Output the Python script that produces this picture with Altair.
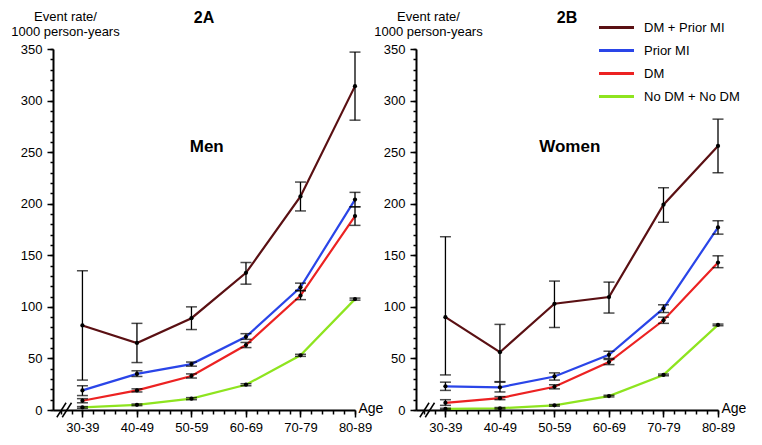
import altair as alt
import pandas as pd

ages = ["30-39", "40-49", "50-59", "60-69", "70-79", "80-89"]
groups = ["DM + Prior MI", "Prior MI", "DM", "No DM + No DM"]
colors = ["#5a1013", "#2a45e8", "#ec2222", "#8ee41f"]

# Men (2A)
men_dm_mi = [82, 65, 89, 133, 207, 314]
men_dm_mi_lo = [29, 46, 78, 122, 193, 281]
men_dm_mi_hi = [135, 84, 100, 143, 221, 347]
men_mi = [19, 35, 44.5, 71, 119, 204]
men_mi_lo = [14, 32.5, 42.5, 68.5, 115.5, 197]
men_mi_hi = [23.5, 38, 46.5, 74, 123, 211]
men_dm = [9, 19, 33, 63, 111, 188]
men_dm_lo = [7, 17.5, 31, 60.5, 107, 179]
men_dm_hi = [11, 20.5, 35, 65.5, 116, 197]
men_no = [2.5, 5, 11, 24.5, 53, 107.5]
men_no_lo = [1.7, 4.2, 10, 23.5, 52, 106.5]
men_no_hi = [3.3, 5.8, 12, 25.5, 54, 108.5]

# Women (2B)
wom_dm_mi = [90, 56, 103, 109.5, 199, 256]
wom_dm_mi_lo = [34, 27.5, 80, 94, 182, 230]
wom_dm_mi_hi = [168, 83, 125, 124, 215.5, 282]
wom_mi = [23, 22, 32.5, 53.5, 98.5, 177]
wom_mi_lo = [19, 17.5, 29, 50, 94.5, 170.5]
wom_mi_hi = [27, 27, 36, 57, 102, 183.5]
wom_dm = [7, 11.5, 22.5, 46.5, 87, 143]
wom_dm_lo = [4.5, 10, 20.5, 44, 84, 138]
wom_dm_hi = [10, 13, 24.5, 49, 90, 149.5]
wom_no = [1, 1.7, 4.5, 13.5, 34, 82.5]
wom_no_lo = [0.3, 1, 3.7, 12.7, 33.2, 81.7]
wom_no_hi = [1.7, 2.4, 5.3, 14.3, 34.8, 83.3]

W = 302
H = 361


def table(vals, los, his):
    rows = []
    for g, v, lo, hi in zip(groups, vals, los, his):
        for i in range(len(ages)):
            rows.append({"group": g, "idx": i, "rate": v[i], "lo": lo[i], "hi": hi[i]})
    return pd.DataFrame(rows)


men_df = table([men_dm_mi, men_mi, men_dm, men_no],
               [men_dm_mi_lo, men_mi_lo, men_dm_lo, men_no_lo],
               [men_dm_mi_hi, men_mi_hi, men_dm_hi, men_no_hi])
wom_df = table([wom_dm_mi, wom_mi, wom_dm, wom_no],
               [wom_dm_mi_lo, wom_mi_lo, wom_dm_lo, wom_no_lo],
               [wom_dm_mi_hi, wom_mi_hi, wom_dm_hi, wom_no_hi])

FONT = "Liberation Sans"
x_major = list(range(len(ages)))
x_minor = [round(-0.4 + 0.2 * k, 1) for k in range(28)]
y_major = list(range(0, 351, 50))
y_minor = list(range(0, 351, 10))

legend = alt.Legend(
    title=None, orient="none", legendX=556, legendY=-29,
    symbolType="M-3,0H3", symbolSize=136, symbolStrokeWidth=3,
    labelFont=FONT, labelFontSize=13, labelColor="black",
    rowPadding=8, labelOffset=20,
)

XS = alt.Scale(domain=[-0.54, 5], nice=False, zero=False)
YS = alt.Scale(domain=[0, 350], nice=False, zero=False)


def panel(df, title, label):
    x_axis_major = alt.Axis(
        orient="bottom", values=x_major,
        labelExpr=f"{ages}[round(datum.value)]",
        title="Age", titleAngle=0, titleX=W + 3, titleY=-2, titleAlign="left",
        titleBaseline="middle", titleFont=FONT, titleFontSize=14, titleFontWeight="normal",
        titleColor="black", tickSize=7,
        tickColor="black", tickWidth=1.5, domainColor="black", domainWidth=2,
        labelFont=FONT, labelFontSize=13, labelColor="black", labelPadding=4,
        labelFlush=False, labelOverlap=False, grid=False,
    )
    x_axis_minor = alt.Axis(
        orient="bottom", values=x_minor, labels=False, title=None, domain=False,
        tickSize=4, tickColor="black", tickWidth=1.5, grid=False,
    )
    y_axis_major = alt.Axis(
        orient="left", values=y_major,
        title=["Event rate/", "1000 person-years"], titleAngle=0, titleX=12, titleY=-29,
        titleAlign="center", titleBaseline="alphabetic", titleFont=FONT, titleFontSize=13,
        titleFontWeight="normal", titleColor="black", titleLineHeight=15,
        tickSize=6, tickColor="black", tickWidth=1.5, domainColor="black", domainWidth=2,
        labelFont=FONT, labelFontSize=13, labelColor="black", labelPadding=5,
        labelOverlap=False, grid=False,
    )
    y_axis_minor = alt.Axis(
        orient="left", values=y_minor, labels=False, title=None, domain=False,
        tickSize=3, tickColor="black", tickWidth=1.5, grid=False,
    )
    base = alt.Chart(df)
    lines = base.mark_line(strokeWidth=2.2).encode(
        x=alt.X("idx:Q", scale=XS, axis=x_axis_major),
        y=alt.Y("rate:Q", scale=YS, axis=y_axis_major),
        color=alt.Color("group:N", scale=alt.Scale(domain=groups, range=colors),
                        sort=groups, legend=legend),
    )
    xn = alt.X("idx:Q", scale=XS, axis=None)
    bars = base.mark_rule(color="black", strokeWidth=1.3).encode(
        x=xn, y=alt.Y("lo:Q", scale=YS, axis=None), y2="hi:Q")
    cap_lo = base.mark_tick(color="black", orient="horizontal", size=11, thickness=1.5).encode(
        x=xn, y=alt.Y("lo:Q", scale=YS, axis=None))
    cap_hi = base.mark_tick(color="black", orient="horizontal", size=11, thickness=1.5).encode(
        x=xn, y=alt.Y("hi:Q", scale=YS, axis=None))
    pts = base.mark_circle(color="black", size=18, opacity=1).encode(
        x=xn, y=alt.Y("rate:Q", scale=YS, axis=None))
    txt = alt.Chart(pd.DataFrame({"t": [label, title], "x": [2.28, 2.23], "y": [250, 375],
                                  "fs": [17, 16]})).mark_text(
        font=FONT, fontWeight="bold", color="black", baseline="alphabetic").encode(
        x=alt.X("x:Q", scale=XS, axis=None), y=alt.Y("y:Q", scale=YS, axis=None),
        text="t:N", size=alt.Size("fs:Q", scale=None, legend=None))
    brk = alt.Chart(pd.DataFrame({"x": [-0.47, -0.37], "x2": [-0.30, -0.20],
                                  "y": [-7, -7], "y2": [7, 7]})).mark_rule(
        color="black", strokeWidth=1.5).encode(
        x=alt.X("x:Q", scale=XS, axis=x_axis_minor), x2="x2:Q",
        y=alt.Y("y:Q", scale=YS, axis=y_axis_minor), y2="y2:Q")
    return alt.layer(brk, lines, bars, cap_lo, cap_hi, pts, txt).resolve_axis(
        x="independent", y="independent").properties(width=W, height=H)


chart = alt.hconcat(panel(men_df, "2A", "Men"), panel(wom_df, "2B", "Women"),
                    spacing=-10).properties(
    padding={"left": 2, "top": 2, "right": 0, "bottom": 0}
).configure_view(stroke=None)

chart.save("out.html", embed_options={"renderer": "svg", "actions": False})
